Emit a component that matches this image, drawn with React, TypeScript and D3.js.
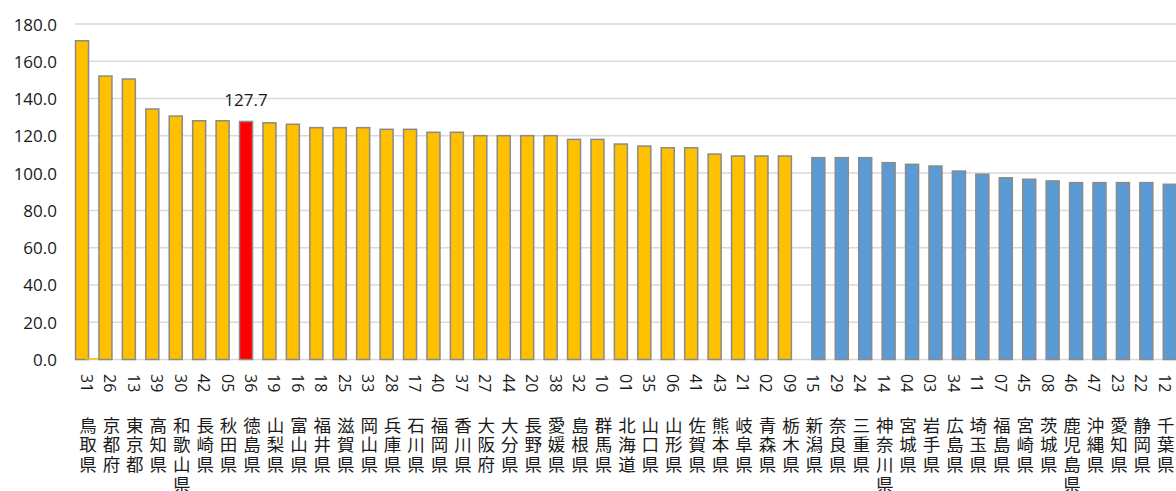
import React from "react";
import * as d3 from "d3";

// Category codes and names (sorted by value, descending)
const codes: string[] = [
  "31","26","13","39","30","42","05","36","19","16","18","25","33","28","17","40",
  "37","27","44","20","38","32","10","01","35","06","41","43","21","02","09",
  "15","29","24","14","04","03","34","11","07","45","08","46","47","23","22","12",
];
const names: string[] = [
  "鳥取県","京都府","東京都","高知県","和歌山県","長崎県","秋田県","徳島県","山梨県","富山県",
  "福井県","滋賀県","岡山県","兵庫県","石川県","福岡県","香川県","大阪府","大分県","長野県",
  "愛媛県","島根県","群馬県","北海道","山口県","山形県","佐賀県","熊本県","岐阜県","青森県",
  "栃木県","新潟県","奈良県","三重県","神奈川県","宮城県","岩手県","広島県","埼玉県","福島県",
  "宮崎県","茨城県","鹿児島県","沖縄県","愛知県","静岡県","千葉県",
];
// Series 1 (yellow): above-threshold prefectures; null where absent
const series1: (number | null)[] = [
  171.0,152.1,150.5,134.4,130.6,128.1,128.1,127.7,127.0,126.2,124.4,124.4,124.4,123.5,123.5,121.9,
  121.9,120.1,120.1,120.1,120.1,118.1,118.1,115.6,114.5,113.6,113.6,110.2,109.2,109.2,109.2,
  null,null,null,null,null,null,null,null,null,null,null,null,null,null,null,null,
];
// Series 2 (blue)
const series2: (number | null)[] = [
  0.8,null,null,null,null,null,null,null,null,null,null,null,null,null,null,null,
  null,null,null,null,null,null,null,null,null,null,null,null,null,null,null,
  108.3,108.3,108.3,105.6,104.7,103.8,101.1,99.4,97.5,96.7,95.8,94.9,94.9,94.9,94.9,94.0,
];
const highlightCode = "36";
const yTicks: number[] = [0, 20, 40, 60, 80, 100, 120, 140, 160, 180];

const W = 1176;
const H = 491;
const YELLOW = "#FFC000";
const BLUE = "#5B9BD5";
const RED = "#FF0000";
const STROKE = "#8a8a8a";
const GRID = "#d9d9d9";
const TEXT = "#1a1a1a";
const LATIN = "'Open Sans', 'Noto Sans', sans-serif";
const CJK = "'Noto Sans CJK JP', 'Noto Sans CJK SC', sans-serif";

export default function App() {
  const x = d3.scaleBand<string>().domain(codes).range([75.3, 1176.5]).padding(0);
  const y = d3.scaleLinear().domain([0, 180]).range([359.5, 24]);
  const sub = d3.scalePoint<string>().domain(["s1", "s2"]).range([-5, 5]);
  const barW = 13;
  const center = (c: string) => (x(c) ?? 0) + x.bandwidth() / 2;

  const bars: React.ReactNode[] = [];
  codes.forEach((c, i) => {
    const v1 = series1[i];
    if (v1 != null) {
      const cx = center(c) + (sub("s1") ?? 0);
      bars.push(
        <rect key={"a" + c} x={cx - barW / 2} y={y(v1)} width={barW} height={y(0) - y(v1)}
          fill={c === highlightCode ? RED : YELLOW} stroke={STROKE} strokeWidth={1.5} />
      );
    }
    const v2 = series2[i];
    if (v2 != null) {
      const cx = center(c) + (sub("s2") ?? 0);
      const tiny = v2 < 2;
      bars.push(
        <rect key={"b" + c} x={cx - barW / 2} y={y(v2)} width={barW} height={y(0) - y(v2)}
          fill={tiny ? YELLOW : BLUE} stroke={tiny ? "none" : STROKE} strokeWidth={1.5} />
      );
    }
  });

  const hiIdx = codes.indexOf(highlightCode);
  const hiVal = series1[hiIdx] as number;

  return (
    <svg width={W} height={H} style={{ position: "absolute", left: 0, top: 0, background: "#fff" }}>
      {yTicks.map((t) => (
        <g key={t}>
          <line x1={75} x2={W} y1={y(t)} y2={y(t)} stroke={GRID} strokeWidth={1.5} />
          <text x={57} y={y(t)} textAnchor="end" dominantBaseline="central"
            fontFamily={LATIN} fontSize={17} fill={TEXT}>{t.toFixed(1)}</text>
        </g>
      ))}
      {bars}
      <text x={center(highlightCode) + (sub("s1") ?? 0)} y={106} textAnchor="middle"
        fontFamily={LATIN} fontSize={17} fill={TEXT}>{hiVal.toFixed(1)}</text>
      {codes.map((c, i) => {
        const cx = center(c);
        return (
          <g key={"l" + c}>
            <text transform={`translate(${cx},374) rotate(90)`} textAnchor="start"
              dominantBaseline="central" fontFamily={LATIN} fontSize={16} fill={TEXT}>{c}</text>
            {Array.from(names[i]).map((ch, k) => (
              <text key={k} x={cx + 1} y={424 + k * 19.7} textAnchor="middle" dominantBaseline="central"
                fontFamily={CJK} fontSize={17.5} fill={TEXT}>{ch}</text>
            ))}
          </g>
        );
      })}
    </svg>
  );
}
